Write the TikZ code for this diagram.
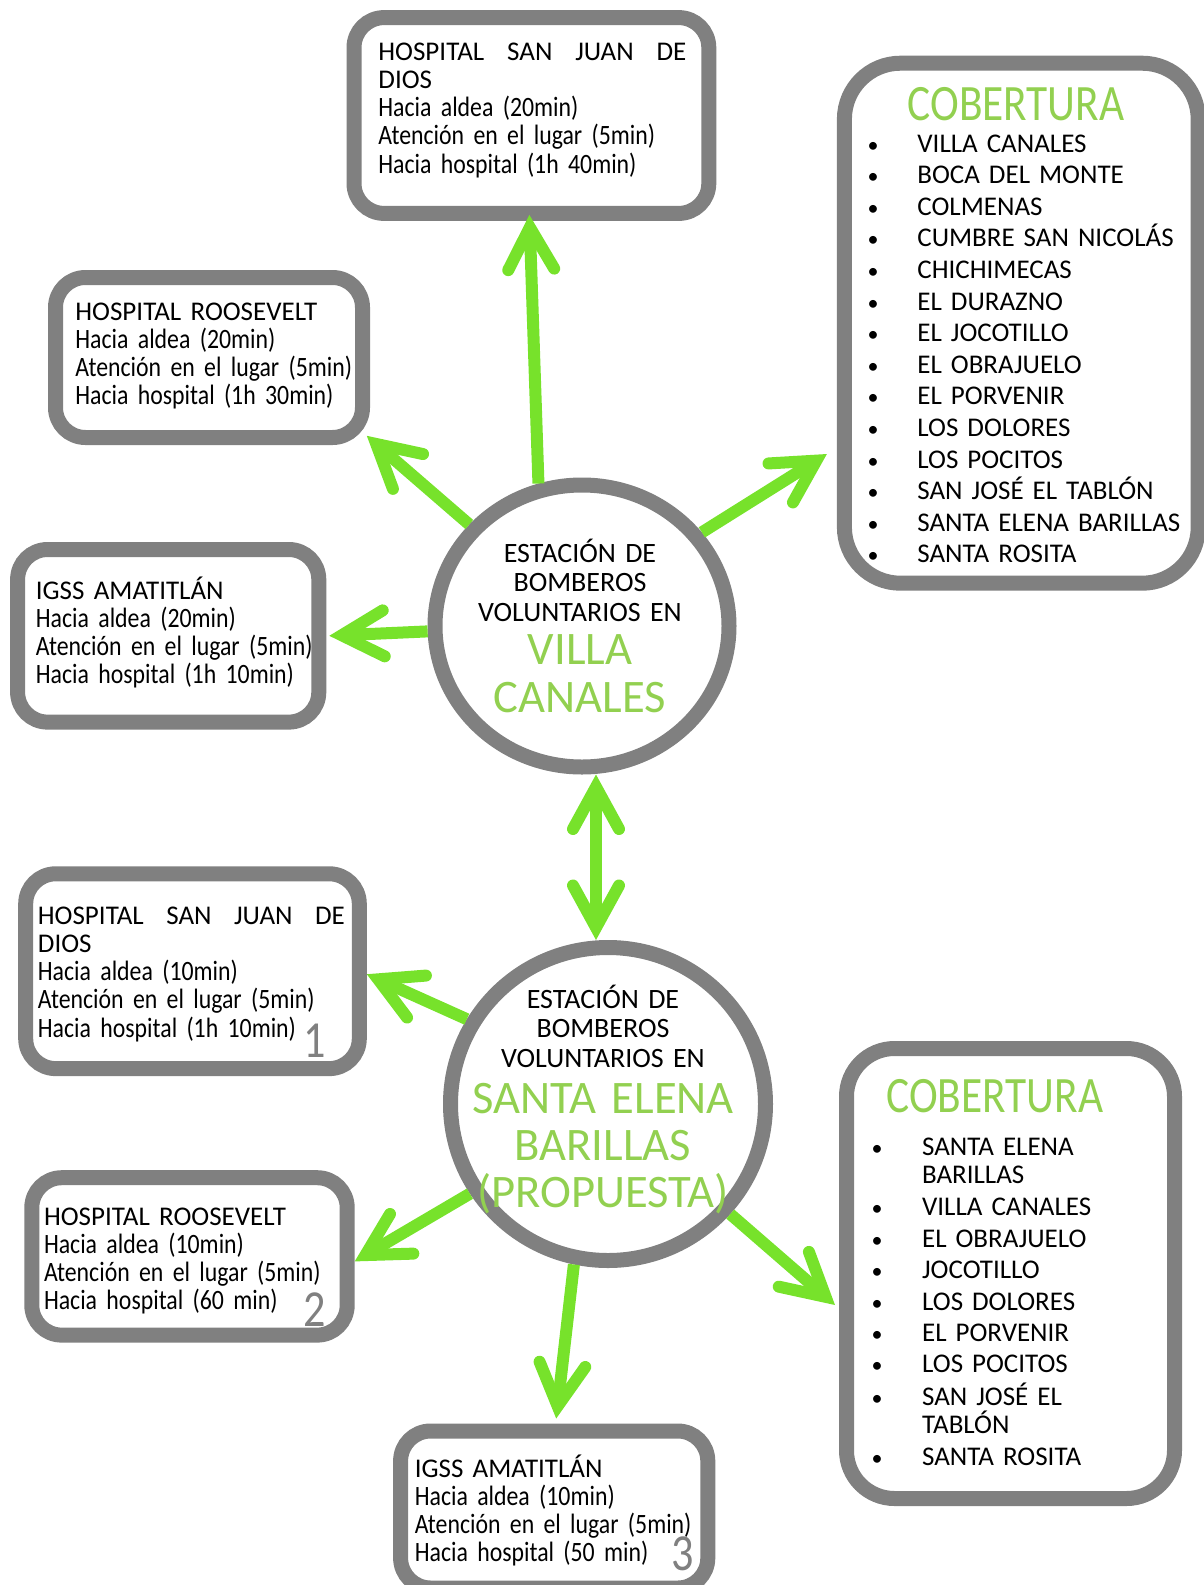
\documentclass[tikz,border=0pt]{standalone}
\usepackage{fontspec}
\setmainfont{Carlito}
\newfontfamily\narrowfont{Carlito}[FakeStretch=0.85]
\usetikzlibrary{arrows.meta,shapes.geometric}
\definecolor{boxgray}{HTML}{808080}
\definecolor{arrowgreen}{HTML}{77E22B}
\definecolor{titlegreen}{HTML}{92D050}
\newcommand{\boxtitle}[1]{{\normalfont\fontsize{13.5pt}{14.15pt}\selectfont #1}}
\tikzset{
  box/.style={draw=boxgray, line width=7.5pt, rounded corners=15pt, inner sep=0pt},
  station/.style={ellipse, draw=boxgray, line width=7.5pt, inner sep=0pt},
  barb/.tip={Straight Barb[length=21pt, width=23pt, line cap=round, line join=miter]},
  arr/.style={draw=arrowgreen, line width=6pt, -barb},
  dblarr/.style={draw=arrowgreen, line width=6pt, barb-barb},
  info/.style={anchor=base west, inner sep=0pt, align=left, text width=175pt, font=\narrowfont\fontsize{14pt}{14.15pt}\selectfont},
  item/.style={anchor=base west, inner sep=0pt, align=left, text width=150pt, font=\fontsize{13.5pt}{14.15pt}\selectfont},
  bul/.style={anchor=base, inner sep=0pt, font=\fontsize{11pt}{11pt}\selectfont},
  ctxt/.style={anchor=base, inner sep=0pt, align=center, text width=150pt, font=\fontsize{14pt}{14.75pt}\selectfont},
  gtxt/.style={anchor=base, inner sep=0pt, align=center, text width=170pt, text=titlegreen, font=\fontsize{23.3pt}{23.6pt}\selectfont},
  cobtitle/.style={anchor=base, inner sep=0pt, text=titlegreen, font=\narrowfont\fontsize{25.5pt}{25.5pt}\selectfont},
  num/.style={anchor=base east, inner sep=0pt, text=boxgray, font=\narrowfont\fontsize{26pt}{26pt}\selectfont}
}
\begin{document}
\begin{tikzpicture}[x=0.5pt, y=-0.5pt]
\useasboundingbox (0,0) rectangle (1204,1585);

% estacion Villa Canales
\node [station, minimum width=147pt, minimum height=141pt] (vc) at (582,626) {};
\node [ctxt] (vct) at (580,562) {ESTACIÓN DE\\BOMBEROS\\VOLUNTARIOS EN};
\node [gtxt, font=\fontsize{23.3pt}{24pt}\selectfont] (vcg) at (580,664) {VILLA\\CANALES};

\node [box, minimum width=177.4pt, minimum height=97.9pt] (hsjdA) at (531.4,115.5) {};
\node [info, text width=154pt] (hsjdAt) at (378,60) {\boxtitle{HOSPITAL\hfill SAN\hfill JUAN\hfill DE}\\\boxtitle{DIOS}\\Hacia aldea (20min)\\Atención en el lugar (5min)\\Hacia hospital (1h 40min)};

\node [box, minimum width=153.5pt, minimum height=80pt] (roosA) at (209,357.5) {};
\node [info] (roosAt) at (75,320) {\boxtitle{HOSPITAL ROOSEVELT}\\Hacia aldea (20min)\\Atención en el lugar (5min)\\Hacia hospital (1h 30min)};

\node [box, minimum width=150.6pt, minimum height=86.3pt] (igssA) at (168.2,635.8) {};
\node [info] (igssAt) at (35.5,599) {\boxtitle{IGSS AMATITLÁN}\\Hacia aldea (20min)\\Atención en el lugar (5min)\\Hacia hospital (1h 10min)};

\node [box, rounded corners=28pt, minimum width=176.9pt, minimum height=260pt] (cobA) at (1021.3,323.2) {};
\node [cobtitle] (cobAt) at (1016,120) {COBERTURA};
\foreach \t [count=\k] in {VILLA CANALES, BOCA DEL MONTE, COLMENAS, CUMBRE SAN NICOLÁS,
    CHICHIMECAS, EL DURAZNO, EL JOCOTILLO, EL OBRAJUELO, EL PORVENIR, LOS DOLORES,
    LOS POCITOS, SAN JOSÉ EL TABLÓN, SANTA ELENA BARILLAS, SANTA ROSITA} {
  \pgfmathsetmacro{\y}{152+31.6*(\k-1)}
  \node [bul] (bA\k) at (873,\y) {•};
  \node [item] (iA\k) at (917,\y) {\t};
}

% estacion Santa Elena Barillas (propuesta)
\node [station, minimum width=157.5pt, minimum height=156.5pt] (seb) at (608,1104) {};
\node [ctxt] (sebt) at (603,1008) {ESTACIÓN DE\\BOMBEROS\\VOLUNTARIOS EN};
\node [gtxt] (sebg) at (603,1113) {SANTA ELENA\\BARILLAS\\(PROPUESTA)};

\node [box, minimum width=166.8pt, minimum height=97.4pt] (hsjdB) at (192.5,971.2) {};
\node [info, text width=153.5pt] (hsjdBt) at (37.5,924) {\boxtitle{HOSPITAL\hfill SAN\hfill JUAN\hfill DE}\\\boxtitle{DIOS}\\Hacia aldea (10min)\\Atención en el lugar (5min)\\Hacia hospital (1h 10min)};
\node [num] (n1) at (326,1057) {1};

\node [box, minimum width=157.7pt, minimum height=78.7pt] (roosB) at (189.5,1256.4) {};
\node [info] (roosBt) at (43.6,1225) {\boxtitle{HOSPITAL ROOSEVELT}\\Hacia aldea (10min)\\Atención en el lugar (5min)\\Hacia hospital (60 min)};
\node [num] (n2) at (326,1326) {2};

\node [box, minimum width=153.6pt, minimum height=78.5pt] (igssB) at (554.2,1509.5) {};
\node [info] (igssBt) at (414.4,1477) {\boxtitle{IGSS AMATITLÁN}\\Hacia aldea (10min)\\Atención en el lugar (5min)\\Hacia hospital (50 min)};
\node [num] (n3) at (694,1570) {3};

\node [box, rounded corners=24pt, minimum width=164pt, minimum height=225pt] (cobB) at (1010.5,1273.5) {};
\node [cobtitle] (cobBt) at (994.7,1112.7) {COBERTURA};
\foreach \t/\y [count=\k] in {SANTA ELENA\\BARILLAS/1155, VILLA CANALES/1215, EL OBRAJUELO/1247,
    JOCOTILLO/1278, LOS DOLORES/1310, EL PORVENIR/1341.7, LOS POCITOS/1372.7,
    SAN JOSÉ EL\\TABLÓN/1405, SANTA ROSITA/1465} {
  \node [bul] (bB\k) at (877,\y) {•};
  \node [item] (iB\k) at (921.7,\y) {\t};
}

% flechas
\draw [arr] (vc.107) -- ([shift={(-1pt,3pt)}]hsjdA.south);
\draw [arr] (vc.138) -- ([shift={(-1.6pt,4.6pt)}]roosA.south east);
\draw [arr] (vc.182.5) -- ([xshift=1.5pt]igssA.east);
\draw [arr] (vc.38.4) -- ([shift={(-5pt,-65.4pt)}]cobA.west);
\draw [dblarr] ([xshift=7pt]vc.south) -- ([xshift=-6pt]seb.north);
\draw [arr] (seb.149) -- ([yshift=-1.5pt]hsjdB.east);
\draw [arr] (seb.213) -- ([yshift=-2.5pt]roosB.east);
\draw [arr] (seb.258) -- ([shift={(1pt,2.5pt)}]igssB.north);
\draw [arr] (seb.318) -- ([shift={(-2pt,-15.75pt)}]cobB.west);
\end{tikzpicture}
\end{document}
